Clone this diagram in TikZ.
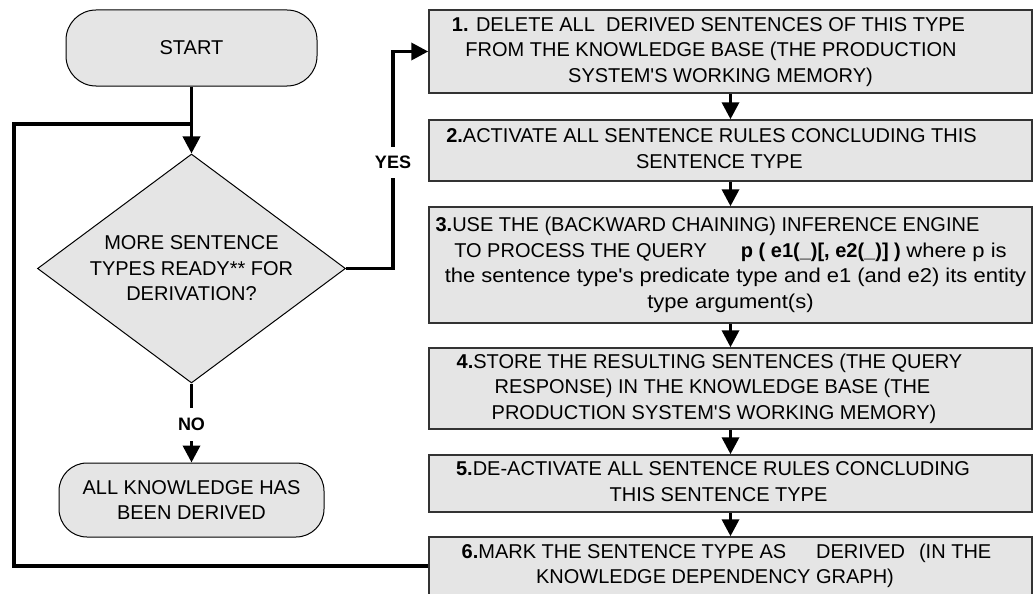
\documentclass[tikz,border=0pt]{standalone}
\usepackage{fontspec}
\newfontfamily\diafont{Liberation Sans}
\newfontfamily\widefont{Liberation Sans}[FakeStretch=1.1]
\usetikzlibrary{shapes.geometric,arrows.meta}
\newcommand{\mylines}[1]{\begin{tabular}{@{}c@{}}#1\end{tabular}}
\newcommand{\tr}[1]{\hspace*{#1pt}}
\begin{document}
\begin{tikzpicture}[x=1pt,y=-1pt,
  every node/.style={font=\diafont\fontsize{20}{25.5}\selectfont, text=black},
  stepbox/.style={draw=black!80, line width=1.5pt, fill=black!10, minimum width=603pt, inner sep=0pt},
  term/.style={draw=black, line width=1pt, fill=black!10, rounded corners=30pt, inner sep=0pt, align=center},
  decision/.style={diamond, draw=black, line width=1pt, fill=black!10, minimum width=308pt, minimum height=229pt, inner sep=0pt, aspect=1.345, align=center},
  conn/.style={line width=3.5pt, -{Triangle[length=17pt,width=17pt]}},
  plain/.style={line width=3.5pt},
  lab/.style={font=\diafont\bfseries\fontsize{18}{22}\selectfont, fill=white, inner xsep=2pt}]
\useasboundingbox (0,0) rectangle (1033,594);

% left column
\node[term, minimum width=251pt, minimum height=76pt] (start) at (191.5,48) {START};
\node[decision] (dec) at (191.5,268.5) {MORE SENTENCE\\TYPES READY** FOR\\DERIVATION?};
\node[term, rounded corners=28pt, minimum width=265pt, minimum height=74pt] (end) at (191.5,500) {ALL KNOWLEDGE HAS\\BEEN DERIVED};

% right column
\node[stepbox, minimum height=83pt] (b1) at (730.5,51.5) {\mylines{\textbf{1.} DELETE ALL\ \ DERIVED SENTENCES OF THIS TYPE\tr{44}\\ FROM THE KNOWLEDGE BASE (THE PRODUCTION\tr{39}\\ SYSTEM'S WORKING MEMORY)\tr{20}}};
\node[stepbox, minimum height=61pt] (b2) at (730.5,150.5) {\mylines{\textbf{2.}ACTIVATE ALL SENTENCE RULES CONCLUDING THIS\tr{38}\\ SENTENCE TYPE\tr{22}}};
\node[stepbox, minimum height=116pt] (b3) at (730.5,265) {\mylines{\textbf{3.}USE THE (BACKWARD CHAINING) INFERENCE ENGINE\tr{46}\\ TO PROCESS THE QUERY\hspace{34pt}\textbf{p ( e1(\_)[, e2(\_)] )} {\widefont where p is}\\ \tr{10}{\widefont the sentence type's predicate type and e1 (and e2) its entity}\\ {\widefont type argument(s)}}};
\node[stepbox, minimum height=81pt] (b4) at (730.5,388.5) {\mylines{\textbf{4.}STORE THE RESULTING SENTENCES (THE QUERY\tr{42}\\ RESPONSE) IN THE KNOWLEDGE BASE (THE\tr{36}\\ PRODUCTION SYSTEM'S WORKING MEMORY)\tr{33}}};
\node[stepbox, minimum height=57pt] (b5) at (730.5,483.5) {\mylines{\textbf{5.}DE-ACTIVATE ALL SENTENCE RULES CONCLUDING\tr{35}\\ THIS SENTENCE TYPE\tr{24}}};
\node[stepbox, minimum height=58pt] (b6) at (730.5,566) {\mylines{\textbf{6.}MARK THE SENTENCE TYPE AS\hspace{30pt}DERIVED\hspace{14pt}(IN THE\tr{8}\\ KNOWLEDGE DEPENDENCY GRAPH)\tr{31}}};

% connectors
\coordinate (join) at (191.5,124);
\coordinate (lc) at (14,124);
\coordinate (yescol) at (393,160);
\draw[conn] (start) -- (dec);
\draw[plain] (b6.west) -| (lc) -- (join);
\draw[conn] (dec.east) -| (yescol) |- (b1.west);
\draw[conn] (dec) -- (end);
\draw[conn] (b1) -- (b2);
\draw[conn] (b2) -- (b3);
\draw[conn] (b3) -- (b4);
\draw[conn] (b4) -- (b5);
\draw[conn] (b5) -- (b6);

% labels
\node[lab, inner ysep=9pt] (yes) at (393,162.5) {YES};
\node[lab, inner ysep=10pt] (no) at (191.5,424.5) {NO};
\end{tikzpicture}
\end{document}
